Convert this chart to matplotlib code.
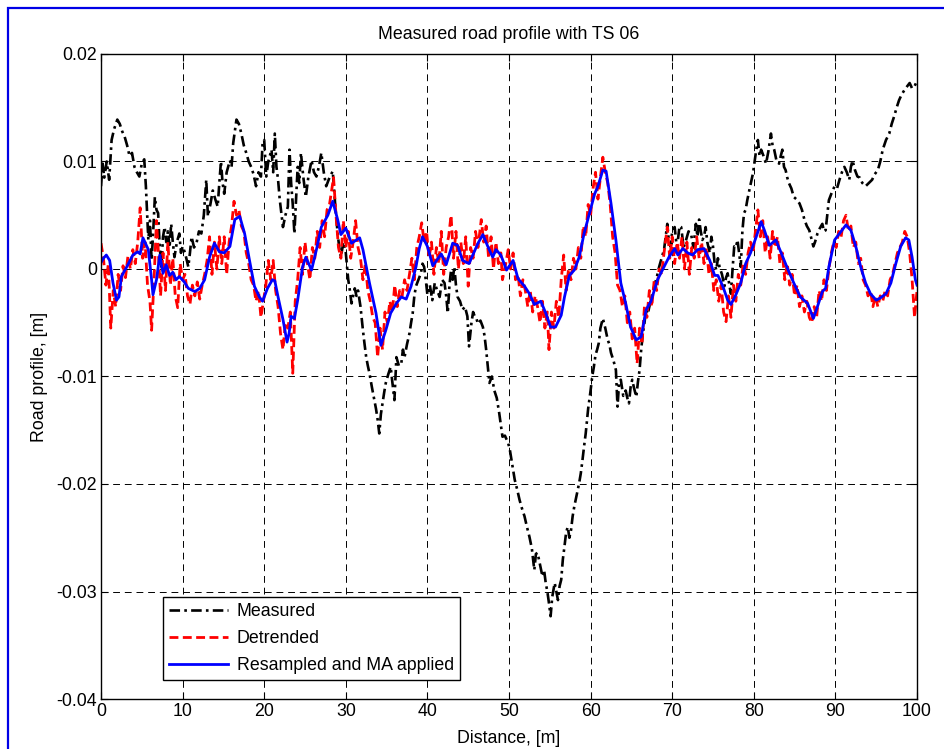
import numpy as np
import matplotlib
matplotlib.use("Agg")
import matplotlib.pyplot as plt
from matplotlib.patches import Rectangle

plt.rcParams['font.family'] = ['Liberation Sans', 'DejaVu Sans']

# ---- data (x in m, profile values in mm) ----
measured_x = [0.0, 0.2, 0.4, 0.7, 1.0, 1.3, 1.6, 2.0, 2.3, 2.6, 2.9, 3.2, 3.5, 3.8, 4.1, 4.4, 4.7, 5.0, 5.3, 5.5,
              5.8, 6.0, 6.2, 6.4, 6.6, 6.8, 7.0, 7.2, 7.4, 7.6, 7.8, 8.0, 8.2, 8.4, 8.6, 8.8, 9.0, 9.3, 9.6, 9.8,
              10.0, 10.3, 10.7, 10.9, 11.1, 11.4, 11.7, 12.0, 12.3, 12.6, 12.9, 13.1, 13.4, 13.7, 14.0, 14.3, 14.5, 14.7, 14.9, 15.1,
              15.4, 15.8, 16.0, 16.2, 16.6, 16.9, 17.2, 17.5, 17.8, 18.1, 18.4, 18.7, 19.0, 19.3, 19.6, 19.8, 20.0, 20.25, 20.5, 20.9,
              21.1, 21.3, 21.5, 21.7, 21.9, 22.1, 22.3, 22.6, 22.9, 23.1, 23.3, 23.5, 23.7, 23.9, 24.1, 24.3, 24.5, 24.8, 25.1, 25.4,
              25.8, 26.1, 26.4, 26.7, 27.0, 27.3, 27.6, 28.0, 28.4, 28.7, 29.0, 29.2, 29.4, 29.7, 30.0, 30.3, 30.5, 30.7, 30.9, 31.1,
              31.3, 31.5, 31.8, 32.1, 32.3, 32.5, 32.7, 32.9, 33.2, 33.5, 33.7, 33.9, 34.1, 34.3, 34.5, 34.7, 34.9, 35.2, 35.5, 35.7,
              35.96, 36.2, 36.5, 36.8, 37.0, 37.2, 37.5, 37.8, 38.0, 38.2, 38.4, 38.6, 38.9, 39.2, 39.4, 39.6, 39.8, 40.0, 40.3, 40.6,
              40.9, 41.2, 41.5, 41.8, 42.1, 42.3, 42.5, 42.7, 42.9, 43.1, 43.3, 43.5, 43.7, 44.0, 44.3, 44.6, 44.9, 45.1, 45.4, 45.6,
              45.8, 46.0, 46.2, 46.5, 46.8, 47.0, 47.2, 47.4, 47.6, 47.9, 48.2, 48.5, 48.8, 49.0, 49.2, 49.5, 49.9, 50.1, 50.4, 50.7,
              51.0, 51.3, 51.6, 51.9, 52.2, 52.5, 52.8, 53.1, 53.3, 53.5, 53.8, 54.1, 54.3, 54.5, 54.7, 54.9, 55.1, 55.3, 55.6, 55.8,
              56.0, 56.2, 56.4, 56.6, 56.8, 57.0, 57.2, 57.4, 57.6, 57.8, 58.0, 58.3, 58.6, 58.8, 59.0, 59.2, 59.4, 59.7, 60.0, 60.2,
              60.4, 60.6, 60.8, 61.0, 61.2, 61.5, 61.8, 62.1, 62.3, 62.5, 62.8, 63.1, 63.3, 63.5, 63.7, 64.0, 64.3, 64.5, 64.7, 64.9,
              65.1, 65.3, 65.6, 65.8, 66.0, 66.2, 66.4, 66.6, 66.8, 67.0, 67.2, 67.5, 67.8, 68.1, 68.4, 68.7, 69.0, 69.2, 69.4, 69.6,
              69.8, 70.0, 70.3, 70.5, 70.7, 70.9, 71.1, 71.4, 71.7, 72.0, 72.3, 72.6, 72.9, 73.1, 73.3, 73.5, 73.7, 73.9, 74.1, 74.3,
              74.6, 74.8, 75.0, 75.2, 75.4, 75.6, 75.8, 76.1, 76.4, 76.6, 76.8, 77.0, 77.2, 77.4, 77.6, 77.8, 78.0, 78.2, 78.4, 78.6,
              78.8, 79.0, 79.2, 79.5, 79.9, 80.1, 80.3, 80.5, 80.7, 80.9, 81.2, 81.5, 81.8, 82.1, 82.3, 82.5, 82.8, 83.1, 83.3, 83.5,
              83.7, 83.9, 84.1, 84.3, 84.6, 84.9, 85.2, 85.6, 85.9, 86.2, 86.5, 86.8, 87.0, 87.3, 87.5, 87.8, 88.1, 88.4, 88.6, 88.8,
              89.0, 89.2, 89.5, 89.9, 90.2, 90.5, 90.8, 91.1, 91.4, 91.7, 91.9, 92.1, 92.4, 92.7, 93.0, 93.3, 93.7, 94.1, 94.5, 94.8,
              95.2, 95.5, 95.8, 96.2, 96.6, 96.9, 97.2, 97.5, 97.8, 98.1, 98.5, 98.8, 99.1, 99.4, 99.7, 100.0]
measured_mm = [7.7, 9.8, 8.5, 10.0, 8.3, 12.0, 13.0, 13.9, 13.5, 12.8, 12.3, 11.5, 10.5, 10.8, 9.5, 9.0, 8.6, 9.8, 10.2, 7.7,
               2.7, 4.5, 0.8, 3.5, 6.7, 5.5, 5.2, 2.0, 0.2, 3.0, 3.9, 2.5, 3.5, 2.0, 4.2, 2.5, 1.1, 2.5, 3.3, 1.5,
               2.1, 1.5, 0.2, 1.5, 3.0, 2.0, 2.4, 3.5, 3.3, 5.0, 8.3, 4.9, 6.0, 7.3, 6.5, 5.8, 8.0, 10.0, 8.0, 7.0,
               9.0, 10.1, 9.5, 11.7, 13.9, 13.5, 12.6, 11.5, 10.8, 10.0, 9.5, 8.8, 7.7, 9.0, 8.6, 11.7, 12.0, 8.6, 10.0, 11.1,
               9.0, 12.6, 9.5, 8.3, 6.5, 5.2, 3.9, 5.0, 5.8, 11.1, 8.0, 6.0, 3.3, 6.5, 9.5, 8.0, 10.8, 8.5, 6.7, 8.5,
               10.1, 9.0, 8.6, 9.5, 10.8, 9.0, 7.7, 8.5, 9.1, 6.0, 3.3, 2.0, 1.1, 2.5, 1.5, -1.0, -2.0, -3.2, -2.5, -1.8,
               -2.5, -2.0, -3.5, -5.7, -7.0, -8.2, -9.0, -9.7, -11.0, -12.2, -13.0, -14.0, -15.3, -13.5, -12.5, -11.5, -10.6, -9.8, -9.1, -10.5,
               -12.2, -8.2, -9.0, -8.8, -7.5, -8.2, -7.0, -6.0, -5.0, -4.1, -2.5, -1.6, -1.0, -0.4, 0.5, 0.2, -1.0, -2.4, -1.5, -2.9,
               -1.3, -2.0, -2.6, -1.0, -1.3, -2.5, -4.1, -1.5, -0.1, -1.0, 0.2, -1.5, -2.6, -3.0, -3.8, -3.5, -4.4, -7.2, -5.0, -4.0,
               -4.4, -4.6, -5.1, -4.8, -5.4, -6.2, -7.5, -9.1, -10.6, -10.0, -11.3, -12.0, -13.4, -14.5, -15.6, -15.5, -16.2, -16.8, -18.2, -19.6,
               -20.5, -21.5, -22.3, -23.0, -24.0, -24.9, -26.0, -28.0, -26.5, -26.4, -27.5, -28.6, -28.0, -29.2, -30.0, -31.1, -32.3, -30.5, -29.2, -30.0,
               -30.8, -29.5, -28.9, -27.0, -25.8, -24.5, -24.0, -25.0, -24.3, -23.0, -22.1, -21.0, -19.9, -19.0, -17.8, -16.5, -15.3, -13.0, -11.3, -10.0,
               -9.1, -8.0, -7.5, -6.9, -5.5, -4.6, -5.5, -6.6, -7.0, -7.8, -8.5, -9.4, -12.8, -10.5, -10.3, -11.8, -11.3, -12.0, -12.5, -11.0,
               -10.3, -11.0, -11.9, -10.5, -9.4, -7.5, -6.0, -5.0, -3.8, -4.2, -3.5, -2.5, -1.6, -0.8, 0.2, 1.0, 1.8, 3.0, 4.2, 2.5,
               2.1, 3.5, 3.9, 2.5, 2.7, 4.0, 3.9, 2.0, 2.7, 3.5, 3.3, 2.0, 4.2, 3.0, 4.6, 3.5, 2.7, 3.0, 3.9, 2.5,
               1.5, 3.0, 2.1, 0.5, -0.1, 1.0, 0.2, -0.5, -1.6, -0.8, -0.4, -1.5, -2.3, 0.0, 2.1, 2.0, 2.7, 1.5, 0.2, 3.5,
               5.2, 5.5, 6.4, 7.5, 8.9, 10.0, 11.1, 12.0, 10.5, 11.1, 10.5, 9.8, 11.0, 12.6, 11.5, 11.1, 10.0, 9.8, 10.5, 11.1,
               9.5, 9.2, 8.5, 8.0, 7.5, 6.7, 6.5, 6.1, 5.5, 4.6, 4.0, 3.6, 3.0, 2.1, 2.5, 3.3, 3.8, 4.2, 3.5, 3.6,
               5.0, 6.4, 7.0, 7.7, 7.5, 8.3, 9.0, 9.5, 9.0, 8.3, 9.5, 10.1, 9.2, 8.6, 8.5, 8.0, 7.7, 8.0, 8.3, 8.8,
               9.2, 10.0, 11.1, 12.0, 12.6, 13.5, 14.2, 15.0, 15.7, 16.2, 16.7, 17.0, 17.3, 16.8, 17.0, 17.5]

detrended_x = [0.0, 0.3, 0.6, 0.9, 1.2, 1.5, 1.8, 2.1, 2.4, 2.7, 3.0, 3.3, 3.6, 3.9, 4.2, 4.5, 4.8, 5.1, 5.4, 5.7,
               6.0, 6.2, 6.5, 6.8, 7.0, 7.3, 7.6, 7.9, 8.2, 8.5, 8.8, 9.1, 9.4, 9.7, 10.0, 10.3, 10.6, 10.9, 11.2, 11.5,
               11.8, 12.1, 12.4, 12.7, 13.0, 13.3, 13.6, 13.9, 14.2, 14.5, 14.8, 15.1, 15.4, 15.7, 16.0, 16.3, 16.6, 16.9, 17.2, 17.5,
               17.8, 18.1, 18.4, 18.7, 19.0, 19.3, 19.6, 19.9, 20.2, 20.5, 20.8, 21.1, 21.4, 21.7, 22.0, 22.3, 22.6, 22.9, 23.2, 23.5,
               23.8, 24.1, 24.4, 24.7, 25.0, 25.3, 25.6, 25.9, 26.2, 26.5, 26.8, 27.1, 27.4, 27.7, 28.0, 28.3, 28.5, 28.8, 29.1, 29.4,
               29.7, 30.0, 30.3, 30.6, 30.9, 31.2, 31.5, 31.8, 32.1, 32.4, 32.7, 33.0, 33.3, 33.6, 33.9, 34.2, 34.5, 34.8, 35.1, 35.4,
               35.7, 36.0, 36.3, 36.6, 36.9, 37.2, 37.5, 37.8, 38.1, 38.4, 38.7, 39.0, 39.3, 39.6, 39.9, 40.2, 40.5, 40.8, 41.1, 41.4,
               41.7, 42.0, 42.3, 42.6, 42.9, 43.2, 43.5, 43.8, 44.1, 44.4, 44.7, 45.0, 45.3, 45.6, 45.9, 46.2, 46.6, 46.9, 47.2, 47.5,
               47.8, 48.1, 48.4, 48.7, 49.0, 49.2, 49.6, 49.9, 50.2, 50.5, 50.8, 51.1, 51.4, 51.7, 52.0, 52.3, 52.6, 52.9, 53.2, 53.5,
               53.8, 54.1, 54.4, 54.7, 54.9, 55.2, 55.5, 55.8, 56.1, 56.4, 56.7, 57.0, 57.3, 57.6, 57.9, 58.2, 58.5, 58.8, 59.1, 59.4,
               59.7, 60.0, 60.3, 60.6, 60.9, 61.2, 61.5, 61.8, 62.1, 62.4, 62.7, 63.0, 63.3, 63.6, 63.9, 64.2, 64.5, 64.8, 65.1, 65.4,
               65.7, 66.0, 66.3, 66.6, 66.9, 67.2, 67.5, 67.8, 68.1, 68.4, 68.7, 69.0, 69.4, 69.7, 70.0, 70.3, 70.6, 70.9, 71.2, 71.5,
               71.8, 72.1, 72.4, 72.7, 73.0, 73.3, 73.6, 73.9, 74.2, 74.5, 74.8, 75.1, 75.4, 75.7, 76.0, 76.3, 76.6, 76.9, 77.2, 77.5,
               77.8, 78.1, 78.4, 78.7, 79.0, 79.3, 79.6, 79.9, 80.2, 80.5, 80.8, 81.1, 81.4, 81.7, 82.0, 82.3, 82.6, 82.9, 83.2, 83.5,
               83.8, 84.1, 84.4, 84.7, 85.0, 85.3, 85.6, 85.9, 86.2, 86.5, 86.8, 87.1, 87.4, 87.7, 88.0, 88.3, 88.6, 88.9, 89.2, 89.5,
               89.8, 90.1, 90.4, 90.7, 91.0, 91.3, 91.6, 91.9, 92.2, 92.5, 92.8, 93.1, 93.4, 93.7, 94.0, 94.3, 94.6, 94.9, 95.2, 95.5,
               95.8, 96.1, 96.4, 96.7, 97.0, 97.3, 97.6, 97.9, 98.2, 98.5, 98.8, 99.1, 99.4, 99.7, 100.0]
detrended_mm = [2.4, 1.0, -1.5, 0.5, -5.5, -2.0, -3.5, -0.5, -2.0, 0.3, -0.8, 1.2, 0.0, 1.8, 0.5, 2.5, 5.7, 1.0, 2.5, -1.5,
                -3.0, -5.7, -1.0, 4.5, 2.0, -2.5, 1.5, -2.0, 2.5, -1.5, 1.0, -2.5, -3.6, 0.5, -1.0, -0.5, -2.5, -3.3, -1.5, -2.5,
                -1.2, -2.8, -1.5, -0.5, 0.8, 3.0, -0.5, 2.5, 0.0, 3.0, 0.5, 3.0, -0.5, 2.5, 4.0, 6.3, 5.0, 5.5, 4.0, 3.5,
                1.5, 0.5, -1.0, -1.5, -3.0, -2.0, -4.5, -3.0, -1.5, 0.8, -1.0, 0.8, -2.0, -3.5, -6.0, -7.5, -5.0, -5.5, -4.0, -9.7,
                -3.0, -1.0, 2.0, -0.5, 2.5, 0.5, -1.0, 2.0, 1.0, 3.5, 2.0, 4.5, 3.0, 5.5, 6.0, 7.5, 8.5, 5.0, 2.0, 1.0,
                4.5, 2.0, 3.5, 1.0, 2.5, 4.5, 2.0, 1.0, -1.0, 0.5, -2.0, -3.0, -4.5, -5.0, -8.2, -5.5, -7.5, -4.0, -5.0, -3.0,
                -4.0, -1.5, -3.5, -2.0, -2.5, -1.0, -2.0, -0.5, 1.0, -1.0, 2.0, 3.0, 4.3, 2.5, 3.5, 1.0, 2.5, -0.5, 2.0, 0.5,
                3.5, -0.5, 2.0, 3.0, 5.0, 1.0, 3.5, 0.0, 2.5, 0.5, 3.0, -1.6, 2.0, 1.0, 3.5, 2.0, 4.6, 2.5, 4.0, 1.0,
                3.0, 0.0, 2.5, 0.5, 1.5, -1.0, 0.5, 1.8, 0.0, 1.5, -1.0, -0.5, -2.5, -1.0, -2.0, -3.5, -2.0, -4.0, -2.5, -3.5,
                -5.0, -3.0, -5.5, -4.0, -7.5, -4.0, -5.5, -3.0, -4.5, -1.0, 1.3, -2.0, 0.0, -1.0, 1.0, 0.0, 2.0, 1.0, 4.0, 3.0,
                6.0, 5.0, 7.5, 9.0, 6.5, 8.5, 10.4, 9.0, 8.0, 6.0, 3.0, 1.5, -1.5, -2.0, -3.5, -2.5, -5.0, -4.0, -6.5, -5.5,
                -8.8, -5.5, -7.0, -3.5, -4.5, -2.0, -3.5, -1.0, -2.0, 0.0, -0.5, 1.5, 3.9, 1.0, 3.0, 0.5, 2.5, 1.0, 3.0, 0.0,
                2.5, -0.5, 2.0, 1.0, 3.0, 1.0, 2.5, 0.5, 2.0, -0.5, 0.5, -2.0, -1.0, -3.0, -1.5, -4.0, -4.9, -2.5, -4.5, -1.5,
                -3.0, -0.5, -1.5, 0.5, -0.5, 1.5, 2.5, 1.5, 3.5, 5.5, 3.0, 4.5, 1.5, 3.0, 1.0, 3.5, 2.0, 3.0, 0.5, 1.5,
                -1.0, 0.5, -1.5, -0.5, -2.5, -1.5, -3.5, -2.5, -4.0, -3.0, -4.5, -5.0, -3.5, -4.5, -2.0, -3.0, -1.0, -2.0, 0.0, 1.5,
                2.5, 2.0, 3.5, 3.0, 4.5, 5.0, 3.5, 4.0, 2.0, 2.5, 0.5, 1.0, -1.0, -1.5, -2.5, -2.0, -3.5, -2.5, -3.5, -2.5,
                -3.0, -2.0, -2.5, -1.0, -0.5, 0.5, 1.5, 2.0, 2.5, 3.5, 3.0, 1.5, -1.0, -4.5, -2.0]

resampled_x = [0.0, 0.3, 0.65, 1.06, 1.47, 1.9, 2.2, 2.5, 3.3, 3.9, 4.5, 4.8, 5.14, 5.8, 6.2, 6.37, 6.8, 7.2, 7.6, 8.0,
               8.4, 8.8, 9.2, 9.6, 10.2, 10.7, 11.5, 12.1, 12.7, 13.3, 13.9, 14.5, 15.1, 15.8, 16.4, 17.0, 17.6, 18.2, 18.8, 19.4,
               19.8, 20.4, 21.0, 21.3, 21.7, 22.3, 22.8, 23.05, 23.3, 23.7, 24.1, 24.7, 25.1, 25.8, 26.4, 27.0, 27.8, 28.4, 29.0, 29.4,
               30.0, 30.7, 31.7, 32.1, 32.9, 33.7, 34.3, 34.9, 35.5, 36.2, 36.8, 37.4, 38.0, 38.6, 39.0, 39.4, 40.0, 40.66, 41.7, 42.3,
               43.1, 43.7, 44.3, 45.1, 46.2, 46.8, 47.4, 48.0, 48.4, 49.0, 49.7, 50.5, 51.1, 51.9, 52.5, 53.1, 53.9, 54.5, 55.1, 55.7,
               56.4, 56.8, 57.4, 58.0, 58.6, 59.2, 60.0, 60.5, 60.9, 61.5, 61.9, 62.5, 63.1, 63.7, 64.3, 64.9, 65.6, 66.2, 66.8, 67.4,
               68.2, 68.8, 69.6, 70.3, 70.7, 71.3, 71.9, 72.5, 73.1, 73.9, 74.6, 75.2, 75.6, 76.2, 76.8, 77.2, 77.8, 78.4, 79.0, 79.6,
               80.3, 80.9, 81.3, 81.9, 82.7, 83.3, 84.1, 84.9, 85.7, 86.6, 87.3, 87.8, 88.4, 88.8, 89.2, 89.9, 90.7, 91.3, 91.9, 92.5,
               93.1, 93.7, 94.3, 95.0, 95.5, 96.2, 96.8, 97.4, 98.0, 98.6, 99.0, 99.4, 99.8, 100.0]
resampled_mm = [0.6, 1.0, 1.3, 0.8, -1.3, -2.9, -2.6, -0.7, 0.4, 1.3, 1.6, 1.4, 2.9, 1.8, -1.0, -2.4, -1.0, 1.3, -0.4, 0.4,
                -0.6, -0.3, -1.0, -0.7, -1.2, -1.8, -2.1, -1.8, -1.0, 1.1, 2.4, 1.6, 1.5, 2.1, 4.6, 4.9, 3.3, 0.8, -1.6, -2.6,
                -3.0, -1.8, -1.0, -1.1, -2.6, -4.7, -6.8, -6.0, -4.4, -4.6, -2.9, 0.2, 1.1, -0.1, 1.8, 3.9, 5.0, 6.3, 4.6, 3.2,
                3.8, 2.4, 2.9, 1.8, -1.3, -4.1, -7.1, -5.7, -4.1, -3.2, -2.6, -2.8, -1.6, 0.2, 1.9, 3.0, 2.1, 0.3, 1.4, 0.4,
                2.4, 2.2, 0.8, 0.5, 2.4, 3.2, 2.1, 1.1, 1.8, 1.3, -0.1, 0.8, -0.9, -1.6, -2.3, -3.3, -3.0, -4.1, -5.4, -5.4,
                -4.3, -2.6, -0.6, -0.1, 1.1, 3.3, 5.6, 7.0, 7.7, 9.2, 9.1, 6.1, 2.7, -1.3, -3.2, -5.4, -6.6, -6.3, -3.8, -3.0,
                -1.0, -0.1, 1.1, 1.9, 1.3, 1.9, 1.5, 1.3, 1.8, 1.9, 0.8, -0.6, -0.6, -1.6, -2.9, -3.3, -2.4, -1.3, 0.5, 1.5,
                3.0, 4.4, 3.6, 2.2, 2.7, 1.6, 0.1, -1.3, -2.6, -3.2, -4.6, -3.5, -2.1, -1.8, 0.2, 2.7, 3.5, 4.1, 3.6, 2.1,
                0.2, -1.3, -2.3, -2.9, -2.7, -2.3, -1.3, 0.5, 2.1, 2.9, 2.7, 1.1, -1.0, -1.5]

series_labels = ['Measured', 'Detrended', 'Resampled and MA applied']
x_ticks = [0, 10, 20, 30, 40, 50, 60, 70, 80, 90, 100]
y_ticks = [-0.04, -0.03, -0.02, -0.01, 0.0, 0.01, 0.02]
y_tick_labels = ['-0.04', '-0.03', '-0.02', '-0.01', '0', '0.01', '0.02']

W, H = 944, 749
FS = 12.8
fig = plt.figure(figsize=(W / 100, H / 100), dpi=100)
fig.patch.set_facecolor('white')

# blue window frame
frame = Rectangle((7.5 / W, -0.1), 1.2, 1.1 - 8.5 / H, transform=fig.transFigure,
                  fill=False, edgecolor='#0000e6', linewidth=1.6, clip_on=False)
fig.patches.append(frame)

ax = fig.add_axes([101 / W, 1 - 699 / H, (917 - 101) / W, (699 - 54) / H])

ax.plot(measured_x, np.array(measured_mm) / 1000.0, color='black', linewidth=1.9,
        dashes=(4, 1.6, 1.0, 1.6), label=series_labels[0])
ax.plot(detrended_x, np.array(detrended_mm) / 1000.0, color='#ff0000', linewidth=2.0,
        dashes=(3.2, 1.6), label=series_labels[1])
ax.plot(resampled_x, np.array(resampled_mm) / 1000.0, color='#0000ff', linewidth=2.0,
        label=series_labels[2])

ax.set_xlim(0, 100)
ax.set_ylim(-0.04, 0.02)
ax.set_xticks(x_ticks)
ax.set_xticklabels([str(t) for t in x_ticks])
ax.set_yticks(y_ticks)
ax.set_yticklabels(y_tick_labels)
ax.tick_params(direction='in', length=5, width=0.8, top=True, right=True,
               labelsize=FS, pad=3)
for s in ax.spines.values():
    s.set_linewidth(1.0)

ax.grid(True, color='black', linestyle=(0, (7, 5)), linewidth=0.7)
ax.set_axisbelow(True)

ax.set_title('Measured road profile with TS 06', fontsize=FS, pad=11)
ax.set_xlabel('Distance, [m]', fontsize=FS, labelpad=7)
ax.set_ylabel('Road profile, [m]', fontsize=FS, labelpad=6)

leg = ax.legend(loc='lower left', bbox_to_anchor=(62 / (917 - 101), 19 / (699 - 54)),
                fontsize=FS, frameon=True, fancybox=False, framealpha=1,
                edgecolor='black', handlelength=3.3, borderpad=0.35,
                labelspacing=0.55, handletextpad=0.5, borderaxespad=0)
leg.get_frame().set_linewidth(1.0)

fig.savefig('out.png', dpi=100)
